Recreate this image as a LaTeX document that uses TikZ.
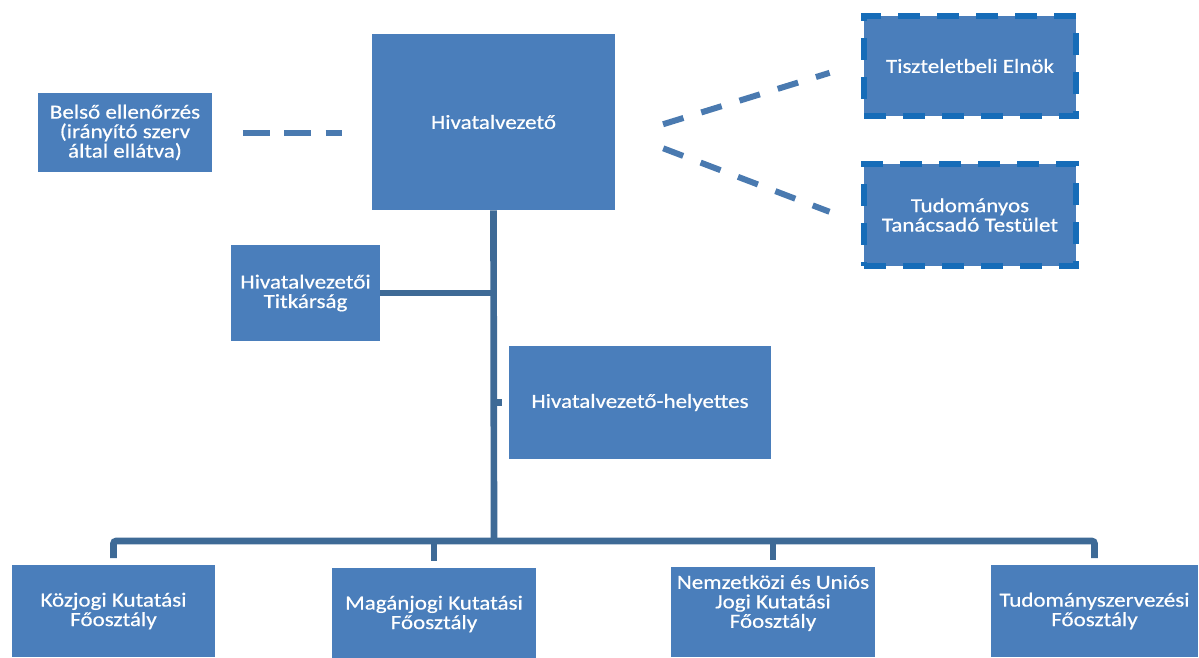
\documentclass[tikz,border=0pt]{standalone}
\usepackage{fontspec}
\setmainfont{Carlito}
\newfontfamily\boxfont{Carlito}[FakeStretch=1.15, FakeBold=0.5]
\usetikzlibrary{calc}
\definecolor{boxblue}{RGB}{74,126,187}
\definecolor{lineblue}{RGB}{62,106,150}
\definecolor{dashblue}{RGB}{74,122,176}
\definecolor{borderblue}{RGB}{22,108,184}
\begin{document}
\begin{tikzpicture}[x=0.75pt,y=-0.75pt,
  box/.style={rectangle, fill=boxblue, draw=none, text=white, align=center,
    inner sep=2pt, font=\boxfont\fontsize{15pt}{14.6pt}\selectfont},
  dbox/.style={box, draw=borderblue, line width=3.8pt, dash pattern=on 16.5pt off 12.75pt},
  conn/.style={draw=lineblue, line width=5pt},
  dconn/.style={draw=dashblue, line width=4.5pt}
]
\useasboundingbox (0,0) rectangle (1199,657);
\clip (0,0) rectangle (1199,657);

% top level
\node[box, minimum width=174*0.75pt, minimum height=79*0.75pt] (bels) at (125,132.5)
  {Belső ellenőrzés\\(irányító szerv\\által ellátva)};
\node[box, minimum width=243*0.75pt, minimum height=176*0.75pt] (hv) at (493.5,122)
  {Hivatalvezető};
\node[dbox, minimum width=212*0.75pt, minimum height=100*0.75pt] (tisz) at (970,66)
  {Tiszteletbeli Elnök};
\node[dbox, minimum width=212*0.75pt, minimum height=102*0.75pt] (tud) at (970,215)
  {Tudományos\\Tanácsadó Testület};
\node[box, minimum width=149*0.75pt, minimum height=96*0.75pt] (tit) at (305.5,293)
  {Hivatalvezetői\\Titkárság};
\node[box, minimum width=262*0.75pt, minimum height=113*0.75pt] (hvh) at (640,402.5)
  {Hivatalvezető-helyettes};

% bottom level
\node[box, minimum width=203*0.75pt, minimum height=92*0.75pt] (koz) at (113.5,611)
  {Közjogi Kutatási\\Főosztály};
\node[box, minimum width=204*0.75pt, minimum height=92*0.75pt] (mag) at (434,614)
  {Magánjogi Kutatási\\Főosztály};
\node[box, minimum width=204*0.75pt, minimum height=90*0.75pt, text depth=16pt] (nem) at (773,612)
  {Nemzetközi és Uniós\\Jogi Kutatási\\Főosztály};
\node[box, minimum width=207*0.75pt, minimum height=92*0.75pt] (tsz) at (1094.5,611)
  {Tudományszervezési\\Főosztály};

% connectors
\coordinate (bus) at (494,541);
\draw[conn] (hv.south) -- (bus);
\draw[conn] (tit.east) -- (hv.south |- tit.east);
\draw[conn] (hv.south |- hvh.west) -- ([xshift=-5pt]hvh.west);
\draw[conn, rounded corners=2pt] ([yshift=5pt]koz.north) -- (koz.north |- bus)
  -- (tsz.north |- bus) -- ([yshift=5pt]tsz.north);
\draw[conn] (mag.north |- bus) -- ([yshift=5pt]mag.north);
\draw[conn] (nem.north |- bus) -- ([yshift=5pt]nem.north);

% dashed relations
\draw[dconn, dash pattern=on 20pt off 11pt, shorten <=23pt, shorten >=22pt]
  (bels.east) -- (hv.west |- bels.east);
\draw[dconn, dash pattern=on 16pt off 14pt, shorten <=37.5pt, shorten >=25pt]
  ([yshift=-12.75pt]hv.east) -- ([yshift=2.25pt]tisz.west);
\draw[dconn, dash pattern=on 16pt off 14pt, shorten <=38.5pt, shorten >=25.7pt]
  ([yshift=-6pt]hv.east) -- ([yshift=-6.75pt]tud.west);
\end{tikzpicture}
\end{document}
